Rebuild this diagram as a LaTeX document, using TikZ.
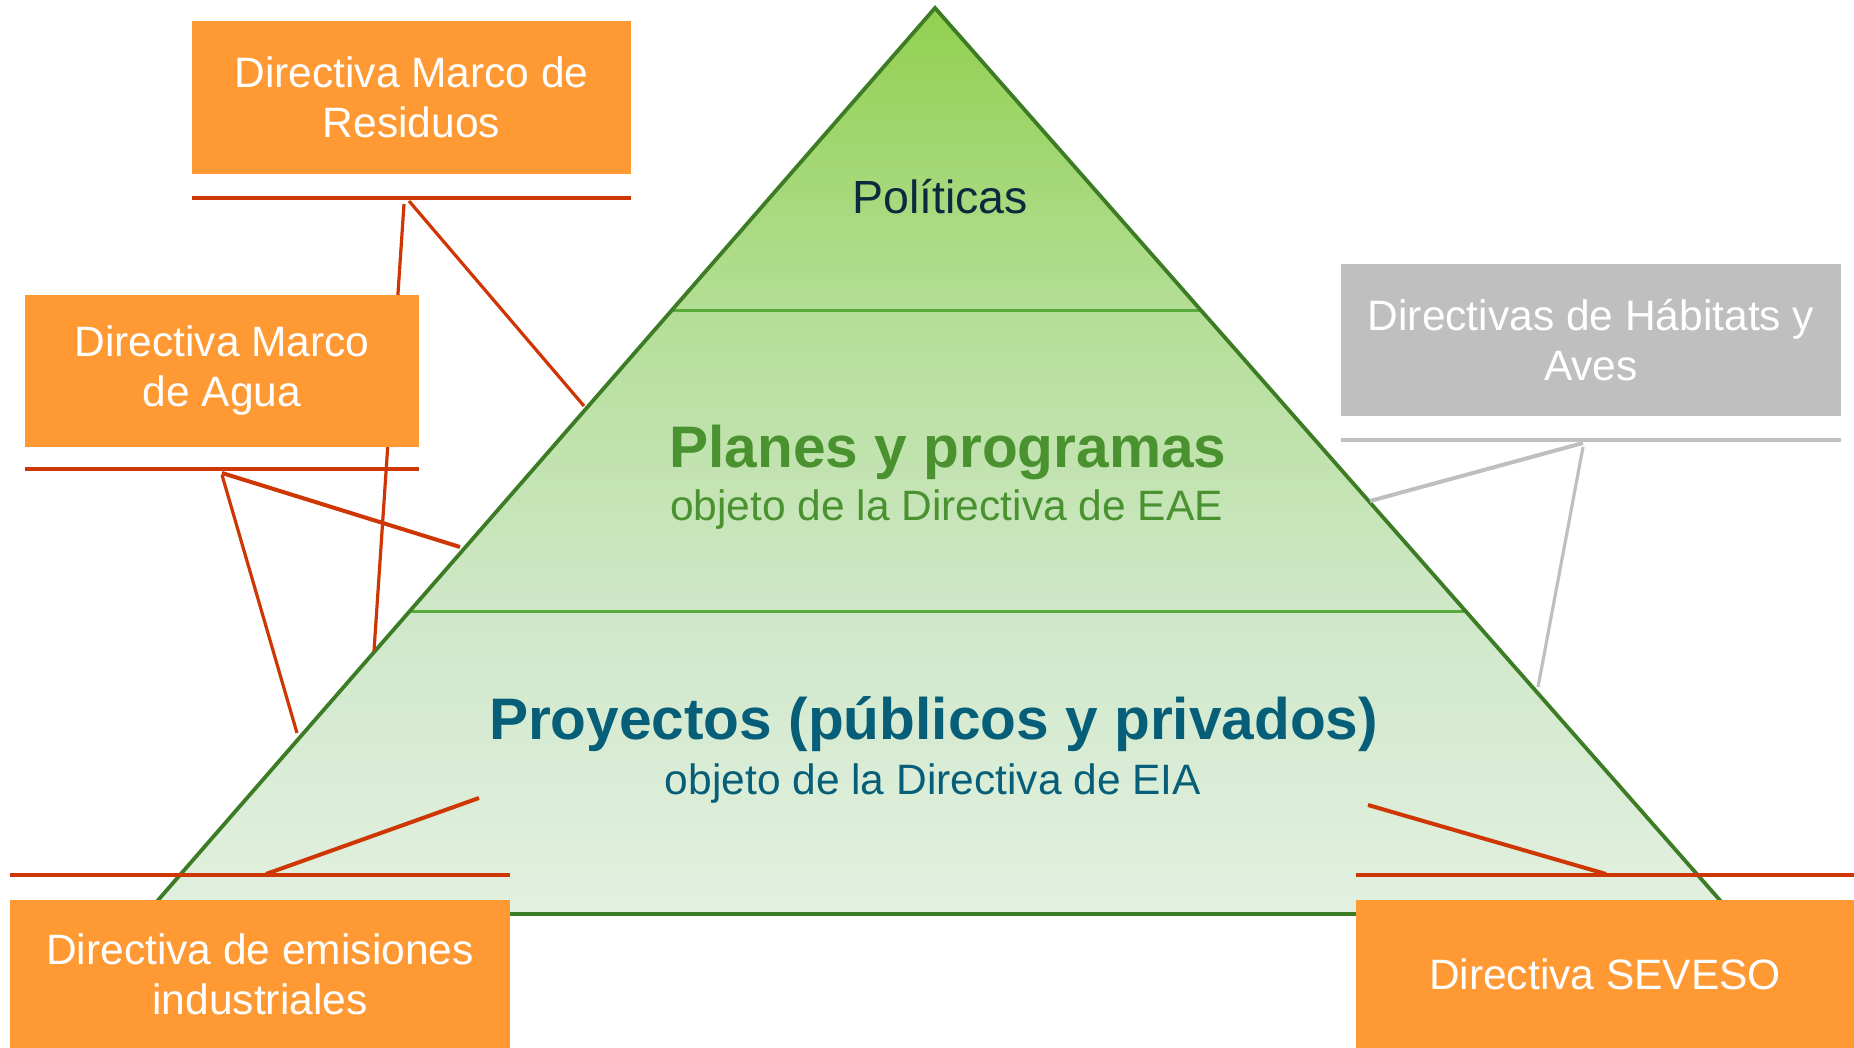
\documentclass[tikz,border=0pt]{standalone}
\usepackage{fontspec}
\setmainfont{Liberation Sans}
\definecolor{orangebox}{RGB}{255,153,51}
\definecolor{redline}{RGB}{206,54,4}
\definecolor{greybox}{RGB}{191,191,191}
\definecolor{pyroutline}{RGB}{60,124,36}
\definecolor{pyrdivider}{RGB}{88,170,58}
\definecolor{navytext}{RGB}{12,42,62}
\definecolor{greentext}{RGB}{74,145,48}
\definecolor{tealtext}{RGB}{6,94,120}
\definecolor{pyrT}{RGB}{146,208,80}
\definecolor{pyrMa}{RGB}{180,222,150}
\definecolor{pyrMb}{RGB}{207,232,201}
\definecolor{pyrB}{RGB}{226,240,224}
\pgfdeclareverticalshading{pyrshade}{100bp}{color(0bp)=(pyrB); color(25bp)=(pyrB); color(41.7bp)=(pyrMb); color(58.2bp)=(pyrMa); color(75bp)=(pyrT); color(100bp)=(pyrT)}
\begin{document}
\begin{tikzpicture}[x=1pt,y=1pt,
  obox/.style={fill=orangebox, draw=none, text=white, align=center, inner sep=0pt,
    font=\fontsize{42.5}{50}\selectfont},
  gbox/.style={obox, fill=greybox},
  redbar/.style={draw=redline, line width=4.6pt},
  greybar/.style={draw=greybox, line width=4.6pt},
  redconn/.style={draw=redline, line width=3.2pt},
  greyconn/.style={draw=greybox, line width=3.2pt},
  outline/.style={draw=pyroutline, line width=3.8pt, line join=miter},
  divider/.style={draw=pyrdivider, line width=3pt},
  title/.style={anchor=base, font=\bfseries\fontsize{58.6}{66}\selectfont},
  sub/.style={anchor=base, font=\fontsize{42.5}{50}\selectfont}
]
\useasboundingbox (0,0) rectangle (1854,1048);
% pyramid
\coordinate (apex) at (935,1040);
\coordinate (bl) at (146,134);
\coordinate (br) at (1732,134);
\shade[shading=pyrshade] (apex) -- (bl) -- (br) -- cycle;
\begin{scope}
  \clip (apex) -- (bl) -- (br) -- cycle;
  \draw[divider] (0,737) -- (1854,737);
  \draw[divider] (0,436) -- (1854,436);
\end{scope}
\draw[outline] (apex) -- (bl) -- (br) -- cycle;
% pyramid texts
\node[anchor=base, text=navytext, font=\fontsize{46.5}{55}\selectfont] (pol) at (940,834) {Políticas};
\node[title, text=greentext] (planes) at (948,580) {Planes y programas};
\node[sub, text=greentext] (eae) at (946.5,527) {objeto de la Directiva de EAE};
\node[title, text=tealtext] (proy) at (933.5,308.5) {Proyectos (públicos y privados)};
\node[sub, text=tealtext] (eia) at (933,253.4) {objeto de la Directiva de EIA};
% connector end points
\coordinate (a1) at (404,844); \coordinate (a2) at (374,397);
\coordinate (b1) at (409,847); \coordinate (b2) at (584,642);
\coordinate (c1) at (222,575); \coordinate (c2) at (460,501);
\coordinate (d1) at (222,573); \coordinate (d2) at (297,315);
\coordinate (e1) at (266,174); \coordinate (e2) at (479,250);
\coordinate (f1) at (1606,174); \coordinate (f2) at (1368,243);
\coordinate (g1) at (1583,605); \coordinate (g2) at (1370,547);
\coordinate (h1) at (1583,601); \coordinate (h2) at (1538,361);
\draw[redconn] (a1) -- (a2);
\draw[redconn] (b1) -- (b2);
\draw[redconn, line width=4pt] (c1) -- (c2);
\draw[redconn] (d1) -- (d2);
\draw[redconn, line width=4pt] (e1) -- (e2);
\draw[redconn, line width=4pt] (f1) -- (f2);
\draw[greyconn, line width=4pt] (g1) -- (g2);
\draw[greyconn] (h1) -- (h2);
% underlines
\coordinate (u1l) at (192,850); \coordinate (u1r) at (631,850);
\coordinate (u2l) at (25,579); \coordinate (u2r) at (419,579);
\coordinate (u3l) at (1341,608); \coordinate (u3r) at (1841,608);
\coordinate (u4l) at (10,173); \coordinate (u4r) at (510,173);
\coordinate (u5l) at (1356,173); \coordinate (u5r) at (1854,173);
\draw[redbar] (u1l) -- (u1r);
\draw[redbar] (u2l) -- (u2r);
\draw[greybar] (u3l) -- (u3r);
\draw[redbar] (u4l) -- (u4r);
\draw[redbar] (u5l) -- (u5r);
% boxes
\node[obox, minimum width=439pt, minimum height=153pt] (residuos) at (411.5,950.5) {Directiva Marco de\\Residuos};
\node[obox, minimum width=394pt, minimum height=152pt] (agua) at (222,677) {Directiva Marco\\de Agua};
\node[gbox, minimum width=500pt, minimum height=152pt] (habitats) at (1591,708) {Directivas de Hábitats y\\Aves};
\node[obox, minimum width=500pt, minimum height=148pt] (emisiones) at (260,74) {Directiva de emisiones\\industriales};
\node[obox, minimum width=498pt, minimum height=148pt] (seveso) at (1605,74) {Directiva SEVESO};
\end{tikzpicture}
\end{document}
